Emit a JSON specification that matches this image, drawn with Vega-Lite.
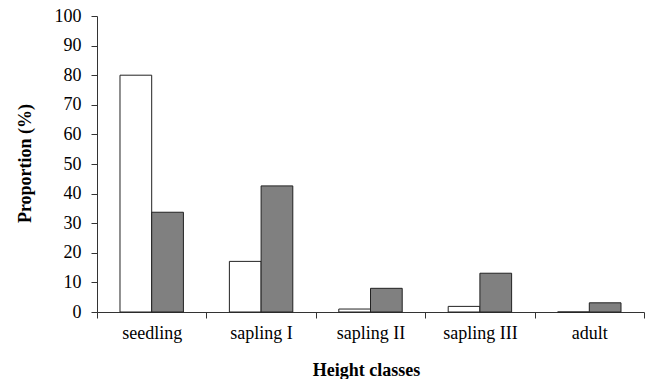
{
  "$schema": "https://vega.github.io/schema/vega-lite/v6.json",
  "width": 547,
  "height": 296,
  "autosize": {"type": "none"},
  "padding": {"left": 97, "top": 16, "right": 8, "bottom": 67},
  "background": "white",
  "config": {"view": {"stroke": null}, "font": "Liberation Serif"},
  "data": {
    "values": [
      {"class": "seedling", "series": "series 1", "value": 80.0},
      {"class": "seedling", "series": "series 2", "value": 33.7},
      {"class": "sapling I", "series": "series 1", "value": 17.1},
      {"class": "sapling I", "series": "series 2", "value": 42.6},
      {"class": "sapling II", "series": "series 1", "value": 1.0},
      {"class": "sapling II", "series": "series 2", "value": 8.0},
      {"class": "sapling III", "series": "series 1", "value": 1.9},
      {"class": "sapling III", "series": "series 2", "value": 13.1},
      {"class": "adult", "series": "series 1", "value": 0},
      {"class": "adult", "series": "series 2", "value": 3.1}
    ]
  },
  "mark": {"type": "bar", "stroke": "#222222", "strokeWidth": 1},
  "encoding": {
    "x": {
      "field": "class",
      "type": "nominal",
      "sort": ["seedling", "sapling I", "sapling II", "sapling III", "adult"],
      "scale": {"paddingInner": 0, "paddingOuter": 0},
      "axis": {
        "tickBand": "extent",
        "labelAngle": 0,
        "tickSize": 6,
        "labelPadding": 6,
        "labelFontSize": 18,
        "labelColor": "#000000",
        "domainColor": "#333333",
        "tickColor": "#333333",
        "grid": false,
        "title": "Height classes",
        "titleFontSize": 18,
        "titleFontWeight": "bold",
        "titleColor": "#000000",
        "titleX": 269,
        "titleY": 63,
        "titleAlign": "center",
        "titleBaseline": "alphabetic"
      }
    },
    "xOffset": {
      "field": "series",
      "type": "nominal",
      "sort": ["series 1", "series 2"],
      "scale": {"paddingInner": 0, "paddingOuter": 0.725}
    },
    "y": {
      "field": "value",
      "type": "quantitative",
      "scale": {"domain": [0, 100]},
      "axis": {
        "values": [0, 10, 20, 30, 40, 50, 60, 70, 80, 90, 100],
        "grid": false,
        "tickSize": 6,
        "labelPadding": 10,
        "labelFontSize": 18,
        "labelColor": "#000000",
        "domainColor": "#333333",
        "tickColor": "#333333",
        "title": "Proportion (%)",
        "titleFontSize": 18,
        "titleFontWeight": "bold",
        "titleColor": "#000000",
        "titleX": -72,
        "titleY": 147,
        "titleAngle": -90,
        "titleAlign": "center",
        "titleBaseline": "middle"
      }
    },
    "fill": {
      "field": "series",
      "type": "nominal",
      "scale": {"domain": ["series 1", "series 2"], "range": ["#ffffff", "#808080"]},
      "legend": null
    }
  }
}
